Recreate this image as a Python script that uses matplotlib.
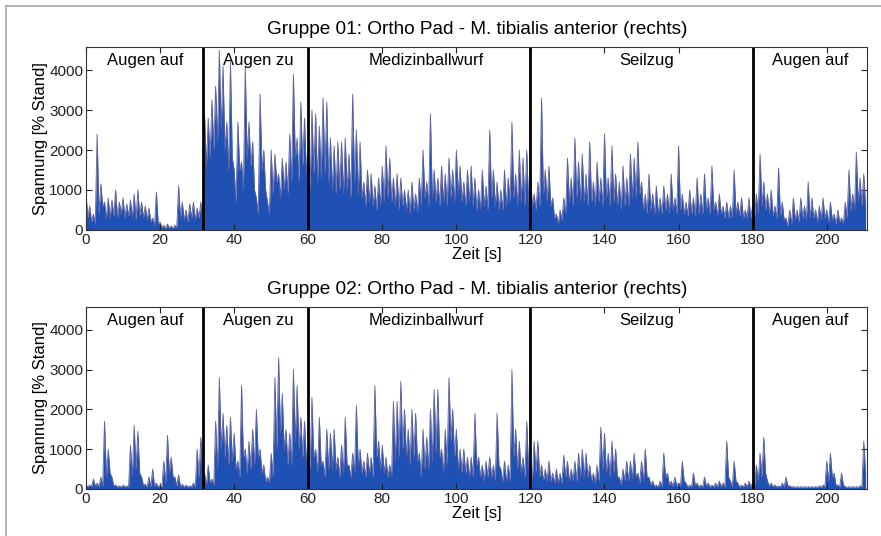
import numpy as np
import matplotlib.pyplot as plt
from matplotlib.patches import Rectangle

plt.rcParams['font.family'] = ['Liberation Sans', 'DejaVu Sans']

# time base: one spike peak per second, body level half a second later
seconds = list(range(0, 211))

# Gruppe 01 - spike peaks [% Stand]
peak_01 = [
    900, 600, 400, 2400, 1150, 700, 800, 750, 1000, 700,
    800, 650, 750, 900, 1000, 700, 600, 550, 300, 950,
    200, 120, 150, 100, 120, 1100, 700, 500, 650, 700,
    550, 700, 2900, 2800, 3250, 3600, 4500, 4100, 2700, 4200,
    1500, 2700, 1700, 4100, 2700, 2200, 800, 3400, 2000, 700,
    2000, 1900, 1400, 1800, 1700, 2400, 3900, 2300, 3200, 2800,
    2000, 3000, 2900, 2600, 3300, 3200, 2300, 2100, 2200, 2200,
    2300, 1900, 3400, 2500, 2200, 1200, 1500, 1400, 1100, 1300,
    1600, 2100, 1800, 1300, 1400, 1300, 1000, 1000, 1200, 900,
    1300, 2000, 1200, 2900, 1500, 1300, 1600, 1400, 1800, 1500,
    2000, 1600, 1200, 1500, 1600, 1300, 1000, 1500, 1100, 2500,
    1500, 1200, 1000, 1500, 1300, 2700, 1400, 2000, 1800, 2000,
    1400, 900, 1200, 3300, 1500, 1600, 800, 400, 500, 800,
    1800, 1300, 2300, 1700, 1900, 1400, 2200, 1200, 1700, 1300,
    2400, 1300, 2100, 1400, 1200, 1600, 1300, 1900, 1800, 2200,
    1200, 900, 1400, 900, 1100, 800, 1100, 900, 1400, 800,
    2100, 900, 700, 1000, 800, 1300, 900, 1400, 800, 1600,
    700, 900, 600, 700, 600, 1500, 700, 800, 500, 800,
    600, 900, 1900, 1200, 900, 1000, 600, 1550, 700, 300,
    500, 800, 500, 800, 600, 1200, 800, 500, 600, 800,
    500, 700, 400, 500, 300, 700, 1500, 900, 1950, 1300,
    1400,
]
# Gruppe 01 - body level between spikes
base_01 = [
    300, 200, 150, 400, 600, 300, 300, 350, 300, 400,
    300, 350, 300, 250, 350, 300, 250, 200, 100, 150,
    60, 40, 50, 40, 60, 300, 250, 200, 300, 250,
    300, 250, 1600, 1800, 2000, 2200, 2500, 2000, 1500, 1800,
    700, 1500, 1000, 1800, 1600, 1000, 400, 1500, 1000, 400,
    900, 1200, 800, 1000, 900, 1200, 1800, 1200, 1600, 1400,
    1000, 1400, 1200, 1300, 1400, 1200, 1000, 900, 1000, 900,
    1000, 800, 1200, 900, 800, 600, 700, 600, 500, 600,
    700, 800, 700, 600, 500, 600, 500, 400, 500, 450,
    600, 800, 600, 800, 700, 600, 700, 600, 800, 700,
    900, 700, 600, 700, 600, 500, 500, 600, 500, 800,
    600, 500, 500, 600, 700, 800, 600, 700, 600, 700,
    600, 500, 600, 900, 700, 600, 300, 150, 250, 400,
    700, 600, 800, 700, 700, 600, 700, 600, 700, 600,
    800, 600, 700, 600, 500, 600, 600, 800, 800, 900,
    500, 400, 500, 400, 400, 400, 500, 400, 500, 400,
    500, 400, 350, 400, 350, 400, 400, 500, 400, 500,
    350, 400, 300, 300, 300, 400, 350, 300, 300, 300,
    300, 400, 600, 500, 400, 350, 300, 350, 250, 100,
    150, 250, 200, 300, 250, 300, 300, 200, 250, 300,
    200, 250, 150, 200, 150, 300, 500, 500, 700, 600,
    600,
]

# Gruppe 02 - spike peaks [% Stand]
peak_02 = [
    80, 100, 250, 150, 300, 1700, 1000, 300, 100, 80,
    100, 80, 1100, 1600, 1450, 300, 120, 300, 500, 150,
    100, 700, 1350, 800, 300, 350, 120, 100, 80, 150,
    1000, 1300, 400, 600, 250, 1700, 2800, 1900, 1600, 1800,
    1400, 700, 2600, 1000, 1200, 1500, 2000, 1000, 600, 300,
    900, 2800, 3300, 2400, 1500, 1400, 3000, 2600, 1800, 1700,
    1000, 2300, 1000, 1800, 700, 1500, 1400, 1500, 800, 1100,
    1800, 600, 900, 2100, 1000, 700, 900, 800, 2600, 1200,
    1100, 800, 600, 2200, 2200, 2700, 2000, 1500, 2000, 1900,
    900, 1500, 1300, 2000, 2500, 2500, 1000, 1500, 2800, 2000,
    1500, 1000, 1000, 800, 800, 1900, 800, 600, 700, 800,
    600, 1900, 500, 700, 600, 3000, 1500, 1200, 800, 1700,
    600, 1200, 1200, 600, 500, 700, 400, 500, 400, 850,
    700, 500, 700, 900, 1000, 900, 600, 400, 600, 1550,
    1400, 900, 1200, 1000, 300, 500, 700, 700, 900, 400,
    700, 1000, 300, 200, 100, 200, 900, 400, 200, 300,
    150, 700, 150, 100, 400, 150, 100, 300, 150, 100,
    150, 200, 150, 1200, 200, 700, 150, 100, 150, 200,
    150, 600, 900, 1300, 200, 150, 100, 80, 150, 300,
    80, 60, 60, 60, 60, 60, 60, 60, 80, 100,
    700, 900, 400, 100, 400, 60, 60, 60, 60, 80,
    1200,
]
# Gruppe 02 - body level between spikes
base_02 = [
    60, 60, 80, 60, 80, 300, 400, 80, 50, 50,
    50, 50, 300, 500, 400, 100, 50, 60, 80, 50,
    50, 150, 400, 300, 80, 60, 50, 50, 50, 50,
    300, 400, 100, 150, 100, 500, 1000, 800, 600, 700,
    500, 300, 800, 400, 500, 600, 800, 400, 200, 150,
    300, 1000, 1400, 1000, 600, 600, 1200, 1000, 800, 700,
    500, 800, 400, 600, 300, 500, 500, 500, 300, 400,
    600, 300, 400, 600, 400, 300, 400, 300, 800, 500,
    400, 300, 300, 700, 800, 1000, 800, 600, 800, 700,
    300, 500, 500, 700, 900, 800, 400, 600, 1200, 800,
    500, 400, 400, 300, 300, 600, 300, 200, 300, 300,
    200, 600, 200, 200, 200, 800, 500, 400, 300, 500,
    200, 400, 300, 200, 200, 200, 150, 150, 150, 300,
    200, 200, 200, 300, 300, 300, 200, 150, 200, 500,
    400, 300, 400, 300, 100, 200, 200, 250, 300, 150,
    200, 300, 100, 60, 50, 60, 300, 100, 60, 80,
    50, 200, 50, 50, 100, 50, 50, 80, 50, 50,
    50, 60, 50, 300, 60, 200, 50, 50, 50, 60,
    50, 200, 300, 400, 80, 60, 50, 50, 50, 80,
    50, 40, 40, 40, 40, 40, 40, 40, 40, 50,
    200, 300, 100, 50, 100, 40, 40, 40, 40, 50,
    400,
]

phase_bounds = [31.5, 60, 120, 180]
phase_names = ['Augen auf', 'Augen zu', 'Medizinballwurf', 'Seilzug', 'Augen auf']
phase_label_x = [16, 46.5, 92, 151.5, 195.5]
titles = ['Gruppe 01: Ortho Pad - M. tibialis anterior (rechts)',
          'Gruppe 02: Ortho Pad - M. tibialis anterior (rechts)']

FILL = '#1f50b4'
EDGE = '#5e5f9e'


def signal_xy(peaks, bases):
    t = np.array(seconds, dtype=float)
    x = np.empty(2 * len(t))
    y = np.empty(2 * len(t))
    x[0::2] = t
    x[1::2] = t + 0.5
    y[0::2] = peaks
    y[1::2] = bases
    return x, y


def draw_panel(ax, peaks, bases, title):
    x, y = signal_xy(peaks, bases)
    ax.fill_between(x, y, 0, color=FILL, linewidth=0)
    ax.plot(x, y, color=EDGE, lw=0.6)
    for b in phase_bounds:
        ax.axvline(b, color='black', lw=2.0)
    for name, px in zip(phase_names, phase_label_x):
        ax.text(px, 0.965, name, transform=ax.get_xaxis_transform(),
                ha='center', va='top', fontsize=12)
    ax.set_xlim(0, 211)
    ax.set_ylim(0, 4580)
    ax.set_xticks(range(0, 201, 20))
    ax.set_yticks(range(0, 4001, 1000))
    ax.tick_params(direction='in', top=True, right=True, labelsize=11,
                   length=4, pad=2, colors='#222222')
    for s in ax.spines.values():
        s.set_color('#333333')
        s.set_linewidth(0.8)
    ax.set_title(title, fontsize=13.7, pad=9)
    ax.set_xlabel('Zeit [s]', fontsize=12, labelpad=0)
    ax.set_ylabel('Spannung [% Stand]', fontsize=12, labelpad=1)


fig = plt.figure(figsize=(8.81, 5.36), dpi=100)
ax1 = fig.add_axes([0.0976, 0.571, 0.887, 0.3414])
ax2 = fig.add_axes([0.0976, 0.0877, 0.887, 0.340])

draw_panel(ax1, peak_01, base_01, titles[0])
draw_panel(ax2, peak_02, base_02, titles[1])

# light grey frame round the figure, as in the document
fig.patches.append(Rectangle((6 / 881, -0.05), 1.0, 1 - 6 / 536 + 0.05,
                             transform=fig.transFigure, fill=False,
                             edgecolor='#b5b5b5', lw=1.5))

fig.savefig('out.png', dpi=100)
